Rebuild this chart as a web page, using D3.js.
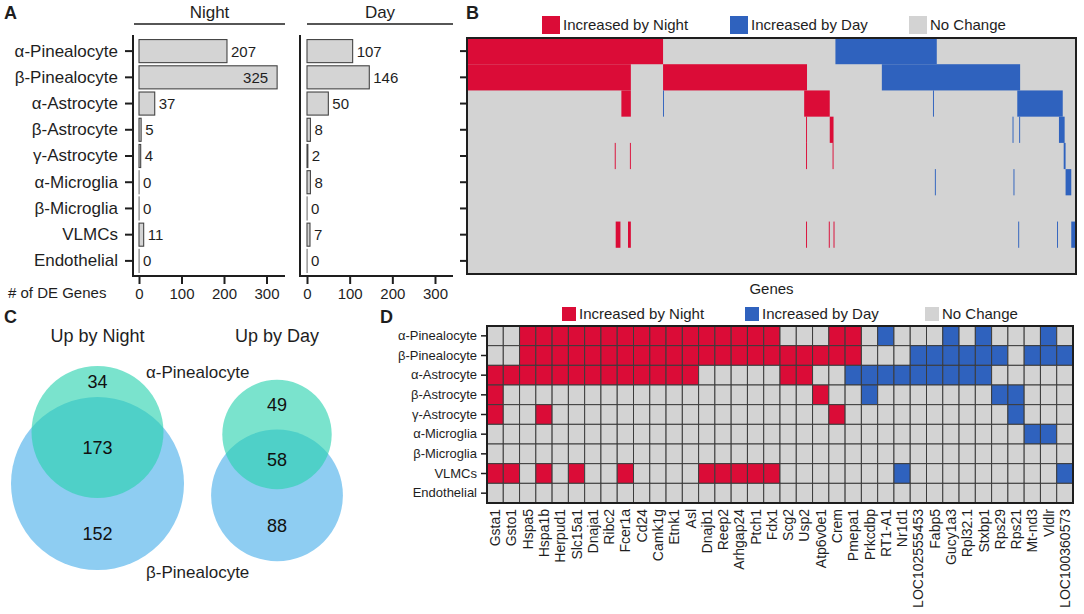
<!DOCTYPE html>
<html>
<head>
<meta charset="utf-8">
<script src="https://cdn.jsdelivr.net/npm/d3@7"></script>
<style>
  body { margin: 0; background: #fff; }
  svg { font-family: "Liberation Sans", Arial, sans-serif; }
</style>
</head>
<body>
<svg id="fig" width="1084" height="614"></svg>
<script>
// ---- data ----
const cellTypes = ["α-Pinealocyte", "β-Pinealocyte", "α-Astrocyte", "β-Astrocyte", "γ-Astrocyte",
                   "α-Microglia", "β-Microglia", "VLMCs", "Endothelial"];
const nightDE = [207, 325, 37, 5, 4, 0, 0, 11, 0];
const dayDE   = [107, 146, 50, 8, 2, 8, 0, 7, 0];
const countTicks = [0, 100, 200, 300];

// panel B: genes ordered by pattern, runs of [start, end) gene index per cell type
const totalGenes = 643;
const nightRuns = [
  [[0, 207]],
  [[0, 173], [207, 359]],
  [[163, 173], [356, 383]],
  [[358, 359], [383, 387]],
  [[156, 157], [172, 173], [358, 359], [386, 387]],
  [],
  [],
  [[157, 162], [170, 173], [358, 359], [382, 383], [387, 388]],
  []
];
const dayRuns = [
  [[389, 496]],
  [[438, 584]],
  [[207, 208], [492, 493], [581, 629]],
  [[576, 577], [583, 584], [625, 631]],
  [[630, 632]],
  [[494, 495], [577, 578], [632, 638]],
  [],
  [[582, 583], [623, 624], [638, 643]],
  []
];

// panel C: [α only, shared, β only]
const vennNight = [34, 173, 152];
const vennDay   = [49, 58, 88];

// panel D: N = increased by night, D = increased by day, . = no change
const dGenes = ["Gsta1", "Gsto1", "Hspa5", "Hspa1b", "Herpud1", "Slc15a1", "Dnaja1", "Ribc2", "Fcer1a",
  "Cd24", "Camk1g", "Etnk1", "Asl", "Dnajb1", "Reep2", "Arhgap24", "Ptch1", "Fdx1", "Scg2", "Usp2",
  "Atp6v0e1", "Crem", "Pmepa1", "Prkcdbp", "RT1-A1", "Nr1d1", "LOC102555453", "Fabp5", "Gucy1a3",
  "Rpl32.1", "Stxbp1", "Rps29", "Rps21", "Mt-nd3", "Vldlr", "LOC100360573"];
const dCalls = [
  "..NNNNNNNNNNNNNNNN...NN.D...D.D...D.",
  "..NNNNNNNNNNNNNNNNNNNNN...DDDDDD.DDD",
  "NNNNNNNNNNNNN.....NN..DDDDDDDDD.....",
  "N...................N..D.......DD...",
  "N..N.................N..........D...",
  ".................................DD.",
  "....................................",
  "NN.N.N..N....NNNNN.......D.........D",
  "...................................."
];
const statusLabels = ["Increased by Night", "Increased by Day", "No Change"];

// ---- styles ----
const RED = "#db0c37", BLUE = "#2f62be", GRAY = "#d3d3d3", INK = "#1e1e1e";
const FONT = '"Liberation Sans", Arial, sans-serif';
const statusColor = { N: RED, D: BLUE, ".": GRAY };

const svg = d3.select("#fig");

function panelLetter(t, x, y) {
  svg.append("text").attr("x", x).attr("y", y).text(t)
    .attr("font-weight", "bold").attr("font-size", 18).attr("fill", INK);
}

function tidyAxis(g, size) {
  g.attr("font-family", FONT);
  g.select(".domain").remove();
  g.selectAll(".tick line").attr("stroke", INK).attr("stroke-width", 2);
  g.selectAll(".tick text").attr("fill", INK).attr("font-size", size);
}

// ================= Panel A =================
panelLetter("A", 4, 19);

const rowY = d3.scaleBand().domain(cellTypes).range([38, 274])
  .paddingInner(0.12).paddingOuter(0.06);

const panelsA = [
  { title: "Night", counts: nightDE, x: d3.scaleLinear().domain([0, 300]).range([139, 266.5]),
    axisX: 133, axisEnd: 285, headStart: 134, rowTicks: true },
  { title: "Day", counts: dayDE, x: d3.scaleLinear().domain([0, 300]).range([307, 435]),
    axisX: 300, axisEnd: 453, headStart: 307, rowTicks: false }
];

panelsA.forEach(p => {
  const g = svg.append("g");

  // header
  g.append("text").attr("x", (p.headStart + p.axisEnd) / 2).attr("y", 18)
    .attr("text-anchor", "middle").attr("font-size", 17).attr("fill", INK).text(p.title);
  g.append("line").attr("x1", p.headStart).attr("x2", p.axisEnd).attr("y1", 24).attr("y2", 24)
    .attr("stroke", INK).attr("stroke-width", 1.6);

  // bars
  g.selectAll("rect.bar").data(p.counts).enter().append("rect")
    .attr("class", "bar")
    .attr("x", p.x(0))
    .attr("y", (d, i) => rowY(cellTypes[i]))
    .attr("width", d => Math.max(p.x(d) - p.x(0), 0.2))
    .attr("height", rowY.bandwidth())
    .attr("fill", "#d4d4d4")
    .attr("stroke", d => d === 0 ? "#8a8a8a" : "#444")
    .attr("stroke-width", 1.1);

  // value labels
  g.selectAll("text.val").data(p.counts).enter().append("text")
    .attr("class", "val")
    .attr("x", d => d > 300 ? p.x(d) - 9 : p.x(d) + 4)
    .attr("y", (d, i) => rowY(cellTypes[i]) + rowY.bandwidth() / 2)
    .attr("dy", "0.36em")
    .attr("text-anchor", d => d > 300 ? "end" : "start")
    .attr("font-size", 15).attr("fill", INK)
    .text(d => d);

  // axis lines
  g.append("line").attr("x1", p.axisX).attr("x2", p.axisX).attr("y1", 35).attr("y2", 277)
    .attr("stroke", INK).attr("stroke-width", 2);
  g.append("line").attr("x1", p.axisX - 1).attr("x2", p.axisEnd).attr("y1", 276).attr("y2", 276)
    .attr("stroke", INK).attr("stroke-width", 2);

  const xa = g.append("g").attr("transform", "translate(0,276)")
    .call(d3.axisBottom(p.x).tickValues(countTicks).tickSize(8).tickPadding(4));
  tidyAxis(xa, 15);

  if (p.rowTicks) {
    const ya = g.append("g").attr("transform", `translate(${p.axisX},0)`)
      .call(d3.axisLeft(rowY).tickSize(8).tickPadding(7));
    tidyAxis(ya, 17);
  }
});

svg.append("text").attr("x", 8).attr("y", 298).attr("font-size", 15).attr("fill", INK)
  .text("# of DE Genes");

// ================= Panel B =================
panelLetter("B", 466, 19);

const geneX = d3.scaleLinear().domain([0, totalGenes]).range([467, 1076]);
const gB = svg.append("g");

gB.append("rect").attr("x", geneX(0)).attr("y", 38)
  .attr("width", geneX(totalGenes) - geneX(0)).attr("height", 236).attr("fill", GRAY);

function drawRuns(runs, color) {
  runs.forEach((rowRuns, i) => {
    gB.selectAll(null).data(rowRuns).enter().append("rect")
      .attr("x", d => geneX(d[0]))
      .attr("width", d => geneX(d[1]) - geneX(d[0]))
      .attr("y", rowY(cellTypes[i]) - rowY.step() * rowY.paddingInner() / 2)
      .attr("height", rowY.step())
      .attr("fill", color);
  });
}
drawRuns(nightRuns, RED);
drawRuns(dayRuns, BLUE);

gB.append("rect").attr("x", geneX(0)).attr("y", 38)
  .attr("width", geneX(totalGenes) - geneX(0)).attr("height", 236)
  .attr("fill", "none").attr("stroke", INK).attr("stroke-width", 2);

const bTicks = gB.append("g").attr("transform", `translate(${geneX(0)},0)`)
  .call(d3.axisLeft(rowY).tickSize(7).tickFormat(""));
tidyAxis(bTicks, 10);

gB.append("text").attr("x", (geneX(0) + geneX(totalGenes)) / 2).attr("y", 294)
  .attr("text-anchor", "middle").attr("font-size", 15).attr("fill", INK).text("Genes");

function legend(xs, y, size, fontSize) {
  const lg = svg.append("g");
  statusLabels.forEach((lab, i) => {
    lg.append("rect").attr("x", xs[i]).attr("y", y).attr("width", size).attr("height", size)
      .attr("fill", [RED, BLUE, GRAY][i]);
    lg.append("text").attr("x", xs[i] + size + 3).attr("y", y + size / 2).attr("dy", "0.36em")
      .attr("font-size", fontSize).attr("fill", INK).text(lab);
  });
}
legend([542, 730, 909], 16, 18, 15);

// ================= Panel C =================
panelLetter("C", 4, 323);

function lensArea(r1, r2, d) {
  if (d >= r1 + r2) return 0;
  if (d <= Math.abs(r1 - r2)) return Math.PI * Math.min(r1, r2) ** 2;
  const a = r1 * r1 * Math.acos((d * d + r1 * r1 - r2 * r2) / (2 * d * r1));
  const b = r2 * r2 * Math.acos((d * d + r2 * r2 - r1 * r1) / (2 * d * r2));
  const c = 0.5 * Math.sqrt((-d + r1 + r2) * (d + r1 - r2) * (d - r1 + r2) * (d + r1 + r2));
  return a + b - c;
}

const bigR = d3.scalePow().exponent(0.34).domain([0, 325]).range([0, 86.5]);

function venn(counts, title, cx, midY) {
  const aTot = counts[0] + counts[1], bTot = counts[1] + counts[2];
  const rB = bigR(bTot);
  const rA = rB * Math.pow(aTot / bTot, 0.6);
  // overlap share of the union, damped a little like the original drawing
  const target = 0.785 * counts[1] / d3.sum(counts);
  const areaA = Math.PI * rA * rA, areaB = Math.PI * rB * rB;
  let lo = Math.abs(rB - rA), hi = rA + rB;
  for (let k = 0; k < 60; k++) {
    const m = (lo + hi) / 2;
    const L = lensArea(rA, rB, m);
    if (L / (areaA + areaB - L) > target) lo = m; else hi = m;
  }
  const d = (lo + hi) / 2;
  const cyA = midY - (d + rB - rA) / 2, cyB = cyA + d;

  const g = svg.append("g");
  g.append("text").attr("x", cx).attr("y", 342).attr("text-anchor", "middle")
    .attr("font-size", 18).attr("fill", INK).text(title);
  g.append("circle").attr("cx", cx).attr("cy", cyB).attr("r", rB).attr("fill", "#8ecdf2");
  g.append("circle").attr("cx", cx).attr("cy", cyA).attr("r", rA)
    .attr("fill", "rgb(40,210,175)").attr("fill-opacity", 0.62);

  const ys = [((cyA - rA) + (cyB - rB)) / 2, ((cyB - rB) + (cyA + rA)) / 2, ((cyA + rA) + (cyB + rB)) / 2];
  g.selectAll("text.n").data(counts).enter().append("text")
    .attr("class", "n").attr("x", cx).attr("y", (v, i) => ys[i]).attr("dy", "0.36em")
    .attr("text-anchor", "middle").attr("font-size", 18).attr("fill", "#111").text(v => v);
}
venn(vennNight, "Up by Night", 97.5, 468);
venn(vennDay, "Up by Day", 277, 470.5);

svg.append("text").attr("x", 146).attr("y", 378).attr("font-size", 17).attr("fill", INK).text(cellTypes[0]);
svg.append("text").attr("x", 146).attr("y", 578).attr("font-size", 17).attr("fill", INK).text(cellTypes[1]);

// ================= Panel D =================
panelLetter("D", 380, 323);

const colX = d3.scaleBand().domain(dGenes).range([487, 1073]);
const rowD = d3.scaleBand().domain(cellTypes).range([326, 503]);
const gD = svg.append("g");

dCalls.forEach((calls, i) => {
  gD.selectAll(null).data(calls.split("")).enter().append("rect")
    .attr("x", (c, j) => colX(dGenes[j]))
    .attr("y", rowD(cellTypes[i]))
    .attr("width", colX.bandwidth())
    .attr("height", rowD.bandwidth())
    .attr("fill", c => statusColor[c])
    .attr("stroke", "#3c3c3c").attr("stroke-width", 1);
});

gD.append("rect").attr("x", 487).attr("y", 326).attr("width", 1073 - 487).attr("height", 503 - 326)
  .attr("fill", "none").attr("stroke", INK).attr("stroke-width", 2);

const dRows = gD.append("g").attr("transform", "translate(487,0)")
  .call(d3.axisLeft(rowD).tickSize(6).tickPadding(4));
tidyAxis(dRows, 13);
dRows.selectAll(".tick line").attr("stroke-width", 1.5);

gD.selectAll("text.gene").data(dGenes).enter().append("text")
  .attr("class", "gene")
  .attr("transform", d => `translate(${colX(d) + colX.bandwidth() / 2},509) rotate(-90)`)
  .attr("dy", "0.36em")
  .attr("text-anchor", "end").attr("font-size", 14).attr("fill", INK)
  .text(d => d);

legend([562, 745, 925], 307, 14, 15);
</script>
</body>
</html>
